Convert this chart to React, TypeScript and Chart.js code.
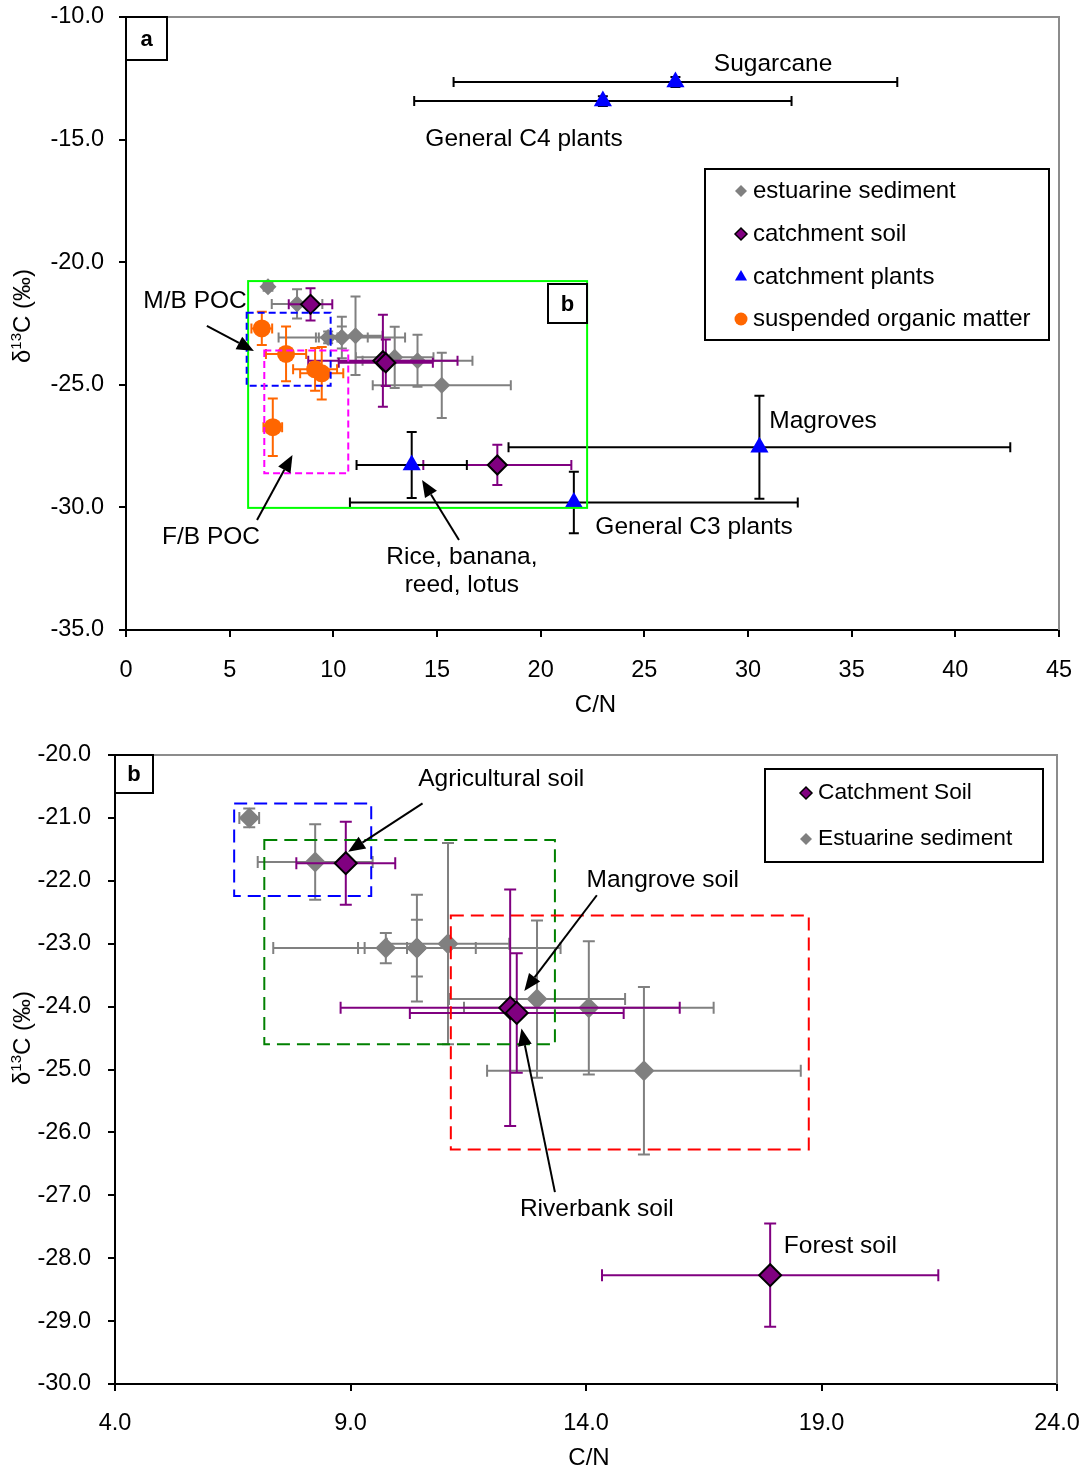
import { useEffect, useRef } from 'react';
import { Chart, registerables } from 'chart.js';

Chart.register(...registerables);

const FONT = '"Liberation Sans", Arial, Helvetica, sans-serif';

const GRAY = '#808080';
const PURPLE = '#800080';
const BLUE = '#0000FF';
const ORANGE = '#FF6600';

// Estuarine sediment: mean C/N and δ13C with ±1 SD
const sedimentCN = [6.85, 8.25, 9.75, 10.41, 10.41, 11.07, 12.96, 14.06, 15.23];
const sedimentD13C = [-21.0, -21.7, -23.07, -23.07, -23.07, -23.0, -23.88, -24.02, -25.02];
const sedimentCNErr = [0.21, 1.22, 0.45, 3.05, 1.25, 1.3, 1.87, 2.65, 3.33];
const sedimentD13CErr = [0.15, 0.6, 0.24, 0.85, 0.45, 1.6, 1.25, 1.06, 1.33];

// Catchment soil: agricultural, mangrove, riverbank, forest
const soilCN = [8.9, 12.39, 12.53, 17.91];
const soilD13C = [-21.72, -24.02, -24.1, -28.27];
const soilCNErr = [1.05, 3.6, 2.27, 3.57];
const soilD13CErr = [0.66, 1.88, 0.95, 0.82];

// Catchment plants: sugarcane, C4 plants, mangroves, C3 plants, rice/banana/reed/lotus
const plantCN = [26.5, 23.0, 30.55, 21.6, 13.78];
const plantD13C = [-12.65, -13.43, -27.55, -29.8, -28.27];
const plantCNErr = [10.7, 9.1, 12.1, 10.8, 2.66];
const plantD13CErr = [0.2, 0.2, 2.1, 1.25, 1.35];

// Suspended organic matter (POC)
const pocCN = [6.55, 7.72, 9.12, 9.44, 7.08];
const pocD13C = [-22.7, -23.74, -24.37, -24.53, -26.73];
const pocCNErr = [0.5, 0.97, 1.06, 1.04, 0.45];
const pocD13CErr = [0.68, 1.12, 0.87, 1.07, 1.17];

// Axis ticks
const xTicksA = [0, 5, 10, 15, 20, 25, 30, 35, 40, 45];
const yTicksA = [-35, -30, -25, -20, -15, -10];
const xTicksB = [4, 9, 14, 19, 24];
const yTicksB = [-30, -29, -28, -27, -26, -25, -24, -23, -22, -21, -20];

type Pt = { x: number; y: number; xErr: number; yErr: number };

const toPoints = (cn: number[], d: number[], cnErr: number[], dErr: number[]): Pt[] =>
  cn.map((x, i) => ({ x, y: d[i], xErr: cnErr[i], yErr: dErr[i] }));

// Draws ±SD whiskers for a dataset just before its markers
const errorBarPlugin = {
  id: 'errorBars',
  beforeDatasetDraw(chart: any, args: any) {
    const ds = chart.data.datasets[args.index];
    const eb = ds.errorBar;
    if (!eb) return;
    const { ctx } = chart;
    const xs = chart.scales.x;
    const ys = chart.scales.y;
    ctx.save();
    ctx.strokeStyle = eb.color;
    ctx.lineWidth = eb.width;
    ctx.lineCap = 'butt';
    ctx.beginPath();
    for (const p of ds.data as Pt[]) {
      const px = xs.getPixelForValue(p.x);
      const py = ys.getPixelForValue(p.y);
      const x0 = xs.getPixelForValue(p.x - p.xErr);
      const x1 = xs.getPixelForValue(p.x + p.xErr);
      const y0 = ys.getPixelForValue(p.y + p.yErr);
      const y1 = ys.getPixelForValue(p.y - p.yErr);
      ctx.moveTo(x0, py); ctx.lineTo(x1, py);
      ctx.moveTo(x0, py - eb.cap); ctx.lineTo(x0, py + eb.cap);
      ctx.moveTo(x1, py - eb.cap); ctx.lineTo(x1, py + eb.cap);
      ctx.moveTo(px, y0); ctx.lineTo(px, y1);
      ctx.moveTo(px - eb.cap, y0); ctx.lineTo(px + eb.cap, y0);
      ctx.moveTo(px - eb.cap, y1); ctx.lineTo(px + eb.cap, y1);
    }
    ctx.stroke();
    ctx.restore();
  },
};

function drawMarker(ctx: CanvasRenderingContext2D, style: string, x: number, y: number, r: number, fill: string, stroke?: string, lw = 0) {
  ctx.save();
  ctx.beginPath();
  if (style === 'diamond') {
    ctx.moveTo(x - r, y); ctx.lineTo(x, y - r); ctx.lineTo(x + r, y); ctx.lineTo(x, y + r); ctx.closePath();
  } else if (style === 'triangle') {
    ctx.moveTo(x, y - r); ctx.lineTo(x + r * 0.866, y + r * 0.5); ctx.lineTo(x - r * 0.866, y + r * 0.5); ctx.closePath();
  } else {
    ctx.arc(x, y, r, 0, Math.PI * 2);
  }
  ctx.fillStyle = fill;
  ctx.fill();
  if (stroke && lw > 0) { ctx.strokeStyle = stroke; ctx.lineWidth = lw; ctx.stroke(); }
  ctx.restore();
}

function drawArrow(ctx: CanvasRenderingContext2D, x0: number, y0: number, x1: number, y1: number) {
  const ang = Math.atan2(y1 - y0, x1 - x0);
  const hl = 17, hw = 7;
  const bx = x1 - hl * Math.cos(ang), by = y1 - hl * Math.sin(ang);
  ctx.save();
  ctx.strokeStyle = '#000'; ctx.fillStyle = '#000'; ctx.lineWidth = 2;
  ctx.beginPath(); ctx.moveTo(x0, y0); ctx.lineTo(bx, by); ctx.stroke();
  ctx.beginPath();
  ctx.moveTo(x1, y1);
  ctx.lineTo(bx + hw * Math.sin(ang), by - hw * Math.cos(ang));
  ctx.lineTo(bx - hw * Math.sin(ang), by + hw * Math.cos(ang));
  ctx.closePath(); ctx.fill();
  ctx.restore();
}

type Decor = {
  boxes: { x0: number; x1: number; y0: number; y1: number; color: string; dash: number[] }[];
  arrows: { from: [number, number]; to: [number, number] }[];
  labels: { text: string; x: number; y: number; align?: CanvasTextAlign }[];
  labelSize: number;
  legend: { left: number; top: number; w: number; h: number; markerX: number; textX: number; size: number;
    items: { text: string; y: number; style: string; r: number; fill: string; stroke?: string; lw?: number }[] };
  tags: { text: string; left: number; top: number; w: number; h: number }[];
  yTitle: { cx: number; cy: number };
  xTitleOffset: number;
};

const makeDecor = (cfg: Decor) => ({
  id: 'decor',
  afterDraw(chart: any) {
    const { ctx, chartArea: ca } = chart;
    const xs = chart.scales.x;
    const ys = chart.scales.y;
    ctx.save();
    // grey frame on top and right
    ctx.strokeStyle = '#8c8c8c'; ctx.lineWidth = 2;
    ctx.beginPath(); ctx.moveTo(ca.left, ca.top); ctx.lineTo(ca.right, ca.top); ctx.lineTo(ca.right, ca.bottom); ctx.stroke();

    // region boxes
    for (const b of cfg.boxes) {
      const px0 = xs.getPixelForValue(b.x0), px1 = xs.getPixelForValue(b.x1);
      const py0 = ys.getPixelForValue(b.y0), py1 = ys.getPixelForValue(b.y1);
      ctx.save();
      ctx.strokeStyle = b.color; ctx.lineWidth = 2; ctx.setLineDash(b.dash);
      ctx.strokeRect(px0, py0, px1 - px0, py1 - py0);
      ctx.restore();
    }

    // arrows
    for (const a of cfg.arrows) {
      drawArrow(ctx, xs.getPixelForValue(a.from[0]), ys.getPixelForValue(a.from[1]),
        xs.getPixelForValue(a.to[0]), ys.getPixelForValue(a.to[1]));
    }

    // annotation text
    ctx.fillStyle = '#000';
    ctx.font = `${cfg.labelSize}px ${FONT}`;
    ctx.textBaseline = 'middle';
    for (const l of cfg.labels) {
      ctx.textAlign = l.align || 'center';
      ctx.fillText(l.text, xs.getPixelForValue(l.x), ys.getPixelForValue(l.y));
    }

    // legend
    const lg = cfg.legend;
    ctx.fillStyle = '#fff';
    ctx.fillRect(lg.left, lg.top, lg.w, lg.h);
    ctx.strokeStyle = '#000'; ctx.lineWidth = 2;
    ctx.strokeRect(lg.left, lg.top, lg.w, lg.h);
    ctx.font = `${lg.size}px ${FONT}`;
    ctx.textAlign = 'left';
    for (const it of lg.items) {
      drawMarker(ctx, it.style, lg.markerX, it.y, it.r, it.fill, it.stroke, it.lw || 0);
      ctx.fillStyle = '#000';
      ctx.fillText(it.text, lg.textX, it.y);
    }

    // panel tags
    for (const t of cfg.tags) {
      ctx.fillStyle = '#fff';
      ctx.fillRect(t.left, t.top, t.w, t.h);
      ctx.strokeStyle = '#000'; ctx.lineWidth = 2;
      ctx.strokeRect(t.left, t.top, t.w, t.h);
      ctx.fillStyle = '#000';
      ctx.font = `bold 22px ${FONT}`;
      ctx.textAlign = 'center';
      ctx.fillText(t.text, t.left + t.w / 2, t.top + t.h / 2 + 1);
    }

    // x-axis title
    ctx.font = `24px ${FONT}`;
    ctx.textAlign = 'center';
    ctx.fillText('C/N', (ca.left + ca.right) / 2 + 3, ca.bottom + cfg.xTitleOffset);

    // y-axis title with superscript
    const big = `24px ${FONT}`, small = `15px ${FONT}`;
    ctx.font = big; const w1 = ctx.measureText('δ').width; const w3 = ctx.measureText('C (‰)').width;
    ctx.font = small; const w2 = ctx.measureText('13').width;
    const total = w1 + w2 + w3;
    ctx.translate(cfg.yTitle.cx, cfg.yTitle.cy);
    ctx.rotate(-Math.PI / 2);
    ctx.textAlign = 'left';
    ctx.textBaseline = 'alphabetic';
    let cx = -total / 2;
    ctx.font = big; ctx.fillText('δ', cx, 8); cx += w1;
    ctx.font = small; ctx.fillText('13', cx, -1); cx += w2;
    ctx.font = big; ctx.fillText('C (‰)', cx, 8);
    ctx.restore();
  },
});

// Fix the axis box size and drop the label overflow padding so the layout padding alone sets the plot area
const fixSize = (prop: 'width' | 'height', size: number) => (s: any) => {
  s[prop] = size;
  s.paddingTop = 0; s.paddingBottom = 0; s.paddingLeft = 0; s.paddingRight = 0;
};

const axis = (min: number, max: number, values: number[], fmt: (v: number) => string, fit: (s: any) => void, pad: number) => ({
  type: 'linear',
  min,
  max,
  afterBuildTicks: (s: any) => { s.ticks = values.map((v) => ({ value: v })); },
  afterFit: fit,
  border: { display: true, color: '#000', width: 2 },
  grid: { display: true, drawOnChartArea: false, drawTicks: true, tickLength: 7, color: '#000', lineWidth: 2 },
  ticks: { color: '#000', font: { family: FONT, size: 23.5 }, padding: pad, autoSkip: false, maxRotation: 0,
    callback: (v: any) => fmt(Number(v)) },
});

const sedimentPts = toPoints(sedimentCN, sedimentD13C, sedimentCNErr, sedimentD13CErr);
const soilPts = toPoints(soilCN, soilD13C, soilCNErr, soilD13CErr);
const plantPts = toPoints(plantCN, plantD13C, plantCNErr, plantD13CErr);
const pocPts = toPoints(pocCN, pocD13C, pocCNErr, pocD13CErr);

const decorA: Decor = {
  boxes: [
    { x0: 5.89, x1: 22.24, y0: -20.77, y1: -30.02, color: '#00FF00', dash: [] },
    { x0: 5.82, x1: 9.87, y0: -22.06, y1: -25.04, color: '#0000FF', dash: [7, 4] },
    { x0: 6.67, x1: 10.72, y0: -23.6, y1: -28.61, color: '#FF00FF', dash: [7, 4] },
  ],
  arrows: [
    { from: [3.9, -22.6], to: [6.17, -23.62] },
    { from: [6.32, -30.51], to: [8.03, -27.86] },
    { from: [16.06, -31.33], to: [14.28, -28.88] },
  ],
  labels: [
    { text: 'Sugarcane', x: 31.21, y: -11.92 },
    { text: 'General C4 plants', x: 19.2, y: -14.98 },
    { text: 'Magroves', x: 33.62, y: -26.48 },
    { text: 'General C3 plants', x: 27.4, y: -30.8 },
    { text: 'Rice, banana,', x: 16.2, y: -32.02 },
    { text: 'reed, lotus', x: 16.2, y: -33.16 },
    { text: 'M/B POC', x: 3.33, y: -21.58 },
    { text: 'F/B POC', x: 4.1, y: -31.2 },
  ],
  labelSize: 24.5,
  legend: {
    left: 705, top: 169, w: 344, h: 171, markerX: 741, textX: 753, size: 24,
    items: [
      { text: 'estuarine sediment', y: 191, style: 'diamond', r: 6, fill: GRAY },
      { text: 'catchment soil', y: 234, style: 'diamond', r: 6, fill: PURPLE, stroke: '#000', lw: 1.5 },
      { text: 'catchment plants', y: 277, style: 'triangle', r: 7, fill: BLUE },
      { text: 'suspended organic matter', y: 319, style: 'circle', r: 6.5, fill: ORANGE },
    ],
  },
  tags: [
    { text: 'a', left: 126, top: 17, w: 41, h: 43 },
    { text: 'b', left: 548, top: 284, w: 39, h: 39 },
  ],
  yTitle: { cx: 22, cy: 316 },
  xTitleOffset: 75,
};

const decorB: Decor = {
  boxes: [
    { x0: 6.53, x1: 9.44, y0: -20.77, y1: -22.24, color: '#0000FF', dash: [13, 7] },
    { x0: 7.17, x1: 13.34, y0: -21.35, y1: -24.6, color: '#008000', dash: [13, 7] },
    { x0: 11.13, x1: 18.73, y0: -22.55, y1: -26.27, color: '#FF0000', dash: [13, 7] },
  ],
  arrows: [
    { from: [10.53, -20.77], to: [8.95, -21.54] },
    { from: [14.23, -22.23], to: [12.69, -23.75] },
    { from: [13.34, -26.95], to: [12.63, -24.35] },
  ],
  labels: [
    { text: 'Agricultural soil', x: 12.2, y: -20.38 },
    { text: 'Mangrove soil', x: 15.63, y: -21.99 },
    { text: 'Riverbank soil', x: 14.23, y: -27.22 },
    { text: 'Forest soil', x: 19.4, y: -27.81 },
  ],
  labelSize: 24.5,
  legend: {
    left: 765, top: 44, w: 278, h: 93, markerX: 806, textX: 818, size: 22.7,
    items: [
      { text: 'Catchment Soil', y: 68, style: 'diamond', r: 6, fill: PURPLE, stroke: '#000', lw: 1.5 },
      { text: 'Estuarine sediment', y: 114, style: 'diamond', r: 6, fill: GRAY },
    ],
  },
  tags: [{ text: 'b', left: 115, top: 30, w: 38, h: 38 }],
  yTitle: { cx: 22, cy: 313 },
  xTitleOffset: 74,
};

const baseOptions = (padding: any, x: any, y: any) => ({
  animation: false,
  responsive: false,
  maintainAspectRatio: false,
  events: [],
  layout: { padding },
  plugins: { legend: { display: false }, tooltip: { enabled: false } },
  scales: { x, y },
});

export default function App() {
  const refA = useRef<HTMLCanvasElement>(null);
  const refB = useRef<HTMLCanvasElement>(null);

  useEffect(() => {
    Chart.defaults.font.family = FONT;
    const chartA = new Chart(refA.current as HTMLCanvasElement, {
      type: 'scatter',
      data: {
        datasets: [
          { label: 'estuarine sediment', data: sedimentPts, pointStyle: 'rectRot', pointRadius: 8.5,
            backgroundColor: GRAY, borderColor: GRAY, borderWidth: 0, order: 4,
            errorBar: { color: GRAY, width: 2, cap: 5 } } as any,
          { label: 'catchment soil', data: soilPts, pointStyle: 'rectRot', pointRadius: 9.5,
            backgroundColor: PURPLE, borderColor: '#000', borderWidth: 2, order: 3,
            errorBar: { color: PURPLE, width: 2, cap: 5 } } as any,
          { label: 'catchment plants', data: plantPts, pointStyle: 'triangle', pointRadius: 10.5,
            backgroundColor: BLUE, borderColor: BLUE, borderWidth: 0, order: 2,
            errorBar: { color: '#000', width: 2, cap: 5 } } as any,
          { label: 'suspended organic matter', data: pocPts, pointStyle: 'circle', pointRadius: 9,
            backgroundColor: ORANGE, borderColor: ORANGE, borderWidth: 0, order: 1,
            errorBar: { color: ORANGE, width: 2, cap: 5 } } as any,
        ],
      },
      options: baseOptions(
        { top: 17, right: 29, left: 0, bottom: 0 },
        axis(0, 45, xTicksA, (v) => String(v), fixSize('height', 95), 19),
        axis(-35, -10, yTicksA, (v) => v.toFixed(1), fixSize('width', 126), 15),
      ) as any,
      plugins: [errorBarPlugin, makeDecor(decorA)],
    });

    const chartB = new Chart(refB.current as HTMLCanvasElement, {
      type: 'scatter',
      data: {
        datasets: [
          { label: 'Estuarine sediment', data: sedimentPts, pointStyle: 'rectRot', pointRadius: 10.5,
            backgroundColor: GRAY, borderColor: GRAY, borderWidth: 0, order: 2,
            errorBar: { color: GRAY, width: 2, cap: 6 } } as any,
          { label: 'Catchment Soil', data: soilPts, pointStyle: 'rectRot', pointRadius: 11,
            backgroundColor: PURPLE, borderColor: '#000', borderWidth: 2, order: 1,
            errorBar: { color: PURPLE, width: 2, cap: 6 } } as any,
        ],
      },
      options: baseOptions(
        { top: 30, right: 31, left: 0, bottom: 0 },
        axis(4, 24, xTicksB, (v) => v.toFixed(1), fixSize('height', 88), 18),
        axis(-30, -20, yTicksB, (v) => v.toFixed(1), fixSize('width', 115), 17),
      ) as any,
      plugins: [errorBarPlugin, makeDecor(decorB)],
    });

    return () => { chartA.destroy(); chartB.destroy(); };
  }, []);

  return (
    <div style={{ position: 'absolute', left: 0, top: 0, width: 1088, height: 1472, background: '#fff' }}>
      <canvas ref={refA} width={1088} height={725} style={{ position: 'absolute', left: 0, top: 0 }} />
      <canvas ref={refB} width={1088} height={747} style={{ position: 'absolute', left: 0, top: 725 }} />
    </div>
  );
}
